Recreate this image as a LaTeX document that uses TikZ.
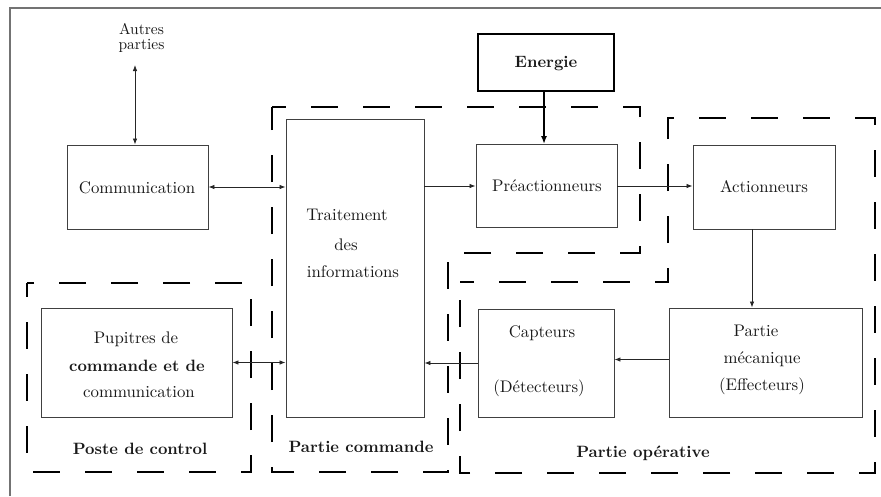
\documentclass[tikz,border=0pt]{standalone}
\usetikzlibrary{arrows.meta}
\begin{document}
\begin{tikzpicture}[x=1pt,y=-1pt,
  frameline/.style={draw=black!55, line width=1.4pt},
  box/.style={draw=black!75, line width=0.9pt, inner sep=0pt},
  strongbox/.style={draw=black, line width=2pt, inner sep=0pt},
  zone/.style={draw=black, line width=2.4pt, dash pattern=on 27pt off 25pt, dash phase=13pt},
  flow/.style={-{Latex[length=6pt,width=4.5pt]}, line width=0.8pt, black!85},
  dflow/.style={{Latex[length=6pt,width=4.5pt]}-{Latex[length=6pt,width=4.5pt]}, line width=0.8pt, black!85},
  lbl/.style={font=\fontsize{10}{12}\selectfont, text=black!90, inner sep=0pt, anchor=base, scale=1.68},
  blbl/.style={lbl, font=\fontsize{10}{12}\selectfont\bfseries, scale=1.64/1.68},
  slbl/.style={font=\fontsize{10}{9.6}\selectfont, text=black!90, inner sep=0pt, align=center, scale=1.55}
]
\useasboundingbox (0,0) rectangle (881,496);

% outer frame (top and left edges)
\draw[frameline] (10,496) -- (10,8) -- (881,8);

% functional zones
\draw[zone] (272,107) -- (640,107) -- (640,253) -- (448,253) -- (448,472) -- (272,472) -- cycle;
\draw[zone] (460,282) -- (668,282) -- (668,118) -- (875,118) -- (875,473) -- (460,473) -- cycle;
\draw[zone] (27,283) rectangle (251,472);

% blocks
\node[box, minimum width=141pt, minimum height=84pt] (comm) at (137.5,187) {};
\node[box, minimum width=138pt, minimum height=298pt] (trait) at (355,268) {};
\node[strongbox, minimum width=136pt, minimum height=57pt] (energie) at (546,62.5) {};
\node[box, minimum width=141pt, minimum height=83pt] (preact) at (546.5,186) {};
\node[box, minimum width=142pt, minimum height=84pt] (act) at (764,187) {};
\node[box, minimum width=193pt, minimum height=109pt] (meca) at (765.5,362.5) {};
\node[box, minimum width=136pt, minimum height=108pt] (capt) at (546,363) {};
\node[box, minimum width=191pt, minimum height=109pt] (pupi) at (136.5,362.5) {};

% texts
\node[slbl] (aut) at (141.5,38) {Autres\\parties};
\node[lbl] (tcomm) at (137,193) {Communication};
\node[blbl] (tener) at (546,67) {Energie};
\node[lbl] (tpre) at (547,191) {Préactionneurs};
\node[lbl] (tact) at (764,192) {Actionneurs};
\node[lbl] (ttr1) at (347,220) {Traitement};
\node[lbl] (ttr2) at (346,250) {des};
\node[lbl] (ttr3) at (353,277) {informations};
\node[lbl] (tcap1) at (542,337) {Capteurs};
\node[lbl] (tcap2) at (539,392) {(Détecteurs)};
\node[lbl] (tmec1) at (756,336) {Partie};
\node[lbl] (tmec2) at (762,363) {mécanique};
\node[lbl] (tmec3) at (762,390) {(Effecteurs)};
\node[lbl] (tpup1) at (136,343) {Pupitres de};
\node[blbl] (tpup2) at (137,371) {commande et de};
\node[lbl] (tpup3) at (139,397) {communication};
\node[blbl] (zposte) at (140,454) {Poste de control};
\node[blbl] (zcmd) at (361,452) {Partie commande};
\node[blbl] (zop) at (643,457) {Partie opérative};

% links
\coordinate (ext) at (135,65);
\draw[dflow] (ext) -- (ext |- comm.north);
\draw[dflow] (comm.east) -- (comm.east -| trait.west);
\draw[flow] (preact.west -| trait.east) -- (preact.west);
\draw[flow] (preact.east) -- (preact.east -| act.west);
\draw[-{Latex[length=8pt,width=6pt]}, line width=1.6pt] ([xshift=-2pt]energie.south) -- ([xshift=-2pt]energie.south |- preact.north);
\draw[flow] ([xshift=-12pt]act.south) -- ([xshift=-12pt]act.south |- meca.north);
\draw[flow] ([yshift=3pt]meca.west) -- ([yshift=3pt]meca.west -| capt.east);
\draw[flow] (capt.west) -- (capt.west -| trait.east);
\draw[dflow] (pupi.east) -- (pupi.east -| trait.west);
\end{tikzpicture}
\end{document}
